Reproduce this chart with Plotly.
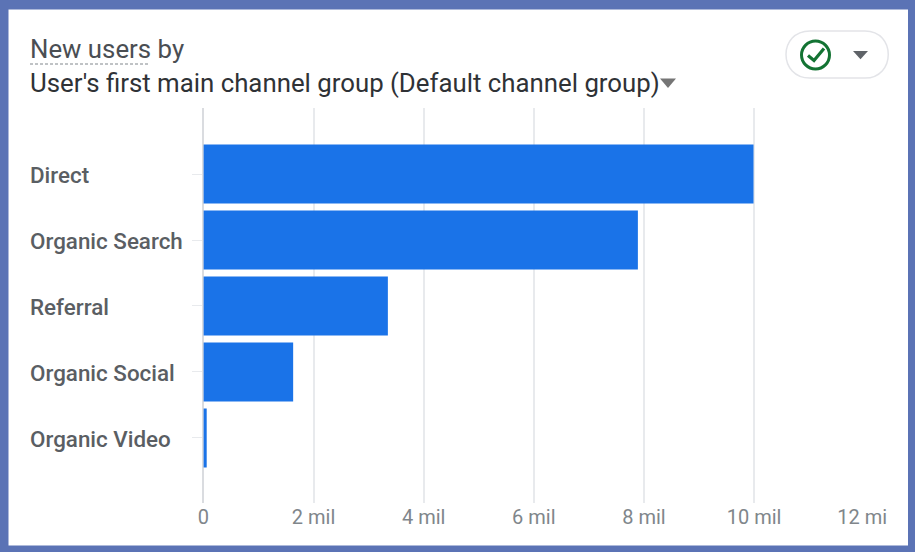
import plotly.graph_objects as go

categories = ["Direct", "Organic Search", "Referral", "Organic Social", "Organic Video"]
new_users = [9990000, 7890000, 3350000, 1630000, 60000]
tick_values = [0, 2000000, 4000000, 6000000, 8000000, 10000000, 12000000]
tick_labels = ["0", "2 mil", "4 mil", "6 mil", "8 mil", "10 mil", "12 mi\u2009"]

W, H = 915, 552
FRAME = "#5b73b5"
GRID = "#e8eaed"


def px(x):
    return x / W


def py(y):
    return 1 - y / H


fig = go.Figure(
    go.Bar(
        y=categories,
        x=new_users,
        orientation="h",
        marker=dict(color="#1a73e8", line=dict(width=0)),
        width=0.895,
    )
)

shapes = [
    dict(type="rect", xref="paper", yref="paper", x0=px(8.5), x1=px(908), y0=py(9.5), y1=py(545.5),
         fillcolor="white", line=dict(width=0), layer="below"),
    # dashed underline below the first title line
    dict(type="line", xref="paper", yref="paper", x0=px(30), x1=px(149), y0=py(64), y1=py(64),
         line=dict(color="#80868b", width=1, dash="3px,2px")),
    # dropdown caret by the title
    dict(type="path", xref="paper", yref="paper",
         path=f"M {px(660)} {py(78.5)} L {px(676)} {py(78.5)} L {px(668)} {py(88)} Z",
         fillcolor="#757575", line=dict(width=0)),
    # status pill
    dict(type="path", xref="paper", yref="paper",
         path=(f"M {px(810)} {py(31)} L {px(865)} {py(31)} "
               f"C {px(896)} {py(31)} {px(896)} {py(78)} {px(865)} {py(78)} "
               f"L {px(810)} {py(78)} "
               f"C {px(778)} {py(78)} {px(778)} {py(31)} {px(810)} {py(31)} Z"),
         fillcolor="white", line=dict(color="#e3e4e8", width=1.5)),
    # check circle
    dict(type="circle", xref="paper", yref="paper", x0=px(801.5), x1=px(829.5), y0=py(41), y1=py(69),
         fillcolor="white", line=dict(color="#137333", width=3)),
    dict(type="path", xref="paper", yref="paper",
         path=(f"M {px(808)} {py(55.5)} L {px(814)} {py(60.5)} L {px(824)} {py(48.5)}"),
         line=dict(color="#137333", width=3.2)),
    # pill caret
    dict(type="path", xref="paper", yref="paper",
         path=f"M {px(853)} {py(51)} L {px(868)} {py(51)} L {px(860.5)} {py(59.3)} Z",
         fillcolor="#5f6368", line=dict(width=0)),
]

annotations = [
    dict(text="New users by", x=px(28), y=py(49), xref="paper", yref="paper", xanchor="left", yanchor="middle",
         showarrow=False, font=dict(family="Roboto", size=25.8, color="#4a4e53")),
    dict(text="User's first main channel group (Default channel group)", x=px(28), y=py(83), xref="paper",
         yref="paper", xanchor="left", yanchor="middle", showarrow=False,
         font=dict(family="Roboto", size=25.8, color="#2f3236")),
]
for name in categories:
    annotations.append(
        dict(text=name, x=px(28), y=name, xref="paper", yref="y", xanchor="left", yanchor="middle", yshift=-1,
             showarrow=False, font=dict(family="Roboto", size=22.4, color="#5a5e63", weight=500))
    )

fig.update_layout(
    width=W,
    height=H,
    margin=dict(l=0, r=0, t=0, b=0, pad=0, autoexpand=False),
    paper_bgcolor=FRAME,
    plot_bgcolor="white",
    showlegend=False,
    shapes=shapes,
    annotations=annotations,
    xaxis=dict(
        domain=[px(203.4), px(864.2)],
        range=[0, 12000000],
        tickvals=tick_values,
        ticktext=tick_labels,
        showgrid=True,
        gridcolor=GRID,
        gridwidth=2,
        zeroline=True,
        zerolinecolor="#dadce0",
        zerolinewidth=2,
        showline=False,
        ticks="",
        ticklen=0,
        automargin=False,
        tickfont=dict(family="Roboto", size=20, color="#80868b"),
    ),
    yaxis=dict(
        domain=[py(503), py(108)],
        range=[4.985, -1.0],
        type="category",
        categoryorder="array",
        categoryarray=categories,
        showgrid=False,
        zeroline=False,
        showline=False,
        ticks="outside",
        ticklen=10,
        tickwidth=1,
        tickcolor=GRID,
        showticklabels=False,
        automargin=False,
    ),
)

fig.write_html("out.html", config=dict(displayModeBar=False),
               post_script="document.body.style.margin='0';document.body.style.overflow='hidden';")
